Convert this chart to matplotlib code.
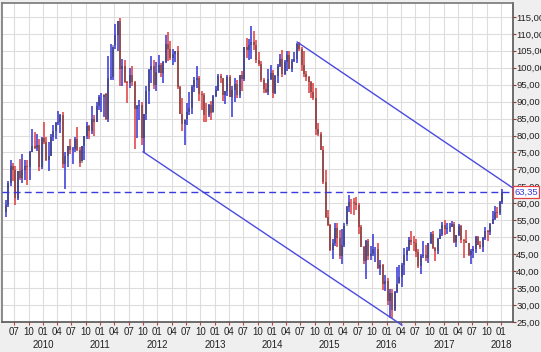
import matplotlib
matplotlib.use("Agg")
import matplotlib.pyplot as plt
import matplotlib.dates as mdates
import pandas as pd
import numpy as np

plt.rcParams['font.family'] = ['Liberation Sans', 'DejaVu Sans']

# semi-monthly periods starting 2009-05-01 through 2018-01-01
start_date = "2009-05-01"
end_date = "2018-01-01"

high = [
    61, 66.5, 72.7, 72, 71, 69.5, 73, 74.7, 72.8, 72.9, 75.3, 82, 81, 80.5, 79, 79.5,
    # 2010
    83.9, 79.5, 78, 80.5, 83, 84, 87.1, 86.3, 87, 75, 77, 79, 76.5, 79.5, 82.5, 76.5,
    76.9, 80, 84, 83, 88.6, 86, 90, 92,
    # 2011
    92.5, 92, 92.5, 103.4, 106.9, 106, 113, 113.9, 114.8, 102.6, 102.4, 96, 99.8, 100.6,
    96, 89, 90.5, 90, 86.3, 94.6, 99.5, 103.4, 102.4, 101.8,
    # 2012
    103.7, 101.3, 102, 109.8, 110.5, 108, 105.5, 105, 106.4, 94.5, 91, 84.5, 89.5, 92.9,
    94.9, 97.3, 100.4, 97.5, 93, 92.5, 89.5, 89.3, 90.3, 92,
    # 2013
    94.5, 98.2, 98.2, 97, 93.2, 97.8, 97.8, 94.6, 96.9, 96.5, 98, 98.9, 106, 108.9,
    108.5, 112.2, 110.9, 108.1, 104.6, 102, 97.1, 95.6, 99.5, 100.8,
    # 2014
    99.4, 97.8, 101.1, 104, 105.2, 102.2, 104.9, 104.9, 102.7, 104.5, 107.3, 107.7, 106.2,
    104.9, 99, 97.5, 96, 95.5, 94, 83.8, 81, 77, 69.9, 57.9,
    # 2015
    54, 49.6, 54.2, 54.3, 52, 52.5, 54.1, 59.1, 62.6, 61.3, 61.5, 61.8, 60, 53.5,
    47.5, 49.3, 49.6, 47.4, 50.9, 47, 48.4, 43.4, 42, 38.8,
    # 2016
    38, 34.8, 34.8, 34.2, 41.2, 41.9, 42.4, 46.8, 47, 50.2, 51.7, 50.5, 49.5, 46.5,
    45, 48.8, 47.7, 48.3, 51.6, 51.9, 47, 49.9, 52.4, 54.4,
    # 2017
    55.2, 54.3, 54.3, 54.9, 54.6, 50.8, 53.8, 53.5, 49.6, 52, 48.4, 46.5, 47.3, 50.4,
    50.3, 49, 50, 52.9, 52.2, 54.2, 57.7, 59.1, 58.9, 60.6,
    # 2018
    64.2,
]

low = [
    56, 59, 65, 66.5, 59.5, 61, 67, 66, 66.8, 65.5, 66.9, 75, 76, 75.5, 69.5, 70,
    # 2010
    77.5, 72.4, 69.5, 73.9, 78.3, 79, 83, 80.7, 70.5, 64.2, 70.8, 74.5, 71.5, 75, 75.5, 70.8,
    72.5, 72.8, 79, 79, 80.5, 80, 84, 87.5,
    # 2011
    87, 85.5, 84.5, 84, 96.5, 96.5, 105.5, 104.9, 94.6, 94.6, 95.5, 89.6, 94, 94.5,
    76, 79.2, 84.6, 77.1, 74.9, 84.5, 89.2, 95.5, 93.8, 93,
    # 2012
    98.5, 97.3, 95.4, 101.5, 102, 102.2, 100.7, 101.7, 93.6, 86.5, 81.2, 77.3, 83, 86,
    86.5, 92.8, 94, 90.2, 87.5, 84.1, 84, 85.4, 84.5, 86.8,
    # 2013
    91.5, 93, 95.5, 90.1, 89.3, 91.8, 91.3, 85.6, 89.8, 91, 91.2, 93, 96, 103,
    102.2, 102.5, 105.2, 101.5, 100.5, 95.9, 92.5, 92.5, 92, 96.5,
    # 2014
    91.2, 92.4, 95.5, 100.3, 97.4, 97.9, 98.9, 99.7, 98.6, 101.8, 101.4, 104.9, 99.1,
    97.2, 96, 92.5, 91.2, 90.4, 80.1, 79.8, 75.6, 65.7, 55.8, 53.3,
    # 2015
    45.9, 43.6, 47.4, 47.2, 43.5, 42, 47, 54, 57.4, 57, 56.5, 58, 51.1, 47,
    42.2, 37.8, 43.2, 43.3, 44.5, 42.6, 40.7, 38.9, 34.5, 34,
    # 2016
    29.9, 26.1, 26.1, 28.3, 33.7, 36.6, 35.2, 39, 43, 46, 47.8, 45.8, 44.1, 40.9,
    39.2, 44, 43, 42.5, 48, 46.6, 43, 45, 49.5, 50.3,
    # 2017
    50.7, 51, 51.6, 53, 48.4, 47.1, 50.3, 48.2, 43.8, 48.2, 44.5, 42.1, 43.9, 45.4,
    47.6, 46.4, 45.6, 49.3, 48.9, 50.7, 54, 55, 55.8, 56.5,
    # 2018
    59.8,
]

close = [
    59.5, 66, 71, 69.9, 61.5, 69.4, 67.5, 69.9, 70.9, 70.6, 75.2, 77, 76.4, 77.3, 70.7, 79.4,
    # 2010
    78, 72.9, 74.1, 79.7, 81.2, 83.8, 84, 86.2, 71.6, 74, 76.9, 75.6, 76, 78.9, 75.6, 71.9,
    76.8, 79.9, 82.7, 81.4, 84.9, 84.1, 88.6, 91.4,
    # 2011
    91.5, 92.2, 84.8, 96.9, 97.2, 106.7, 109.7, 113.9, 99.6, 100.5, 95.8, 95.4, 97.8, 95.7,
    87.9, 88.8, 89, 79.2, 86.3, 93.2, 99.4, 100.4, 94.9, 98.8,
    # 2012
    100.7, 98.5, 101.8, 107.1, 105.4, 103, 104.2, 104.9, 94.4, 86.5, 83.3, 84.9, 86.8, 88.1,
    94.3, 96.5, 97, 92.2, 91.9, 86.2, 86, 88.9, 86.7, 91.8,
    # 2013
    93.3, 97.5, 97, 92, 93.2, 97.2, 91.3, 93.5, 95.2, 91.9, 97.8, 96.6, 106, 105.1,
    106.8, 107.7, 106.6, 102.3, 101.2, 96.4, 93.8, 92.7, 96.6, 98.4,
    # 2014
    92.6, 97.5, 100.4, 102.6, 98.1, 101.6, 103.8, 99.7, 102, 102.7, 106.9, 105.4, 100.9,
    98.2, 97.4, 95.9, 92.9, 91.2, 81.8, 80.5, 75.8, 66.2, 55.9, 53.5,
    # 2015
    46.1, 48.2, 52.8, 49.8, 44.5, 47.6, 53.3, 59, 60.5, 60.3, 60, 59.5, 53, 47.1,
    42.9, 49, 44.6, 45.1, 46.4, 46.6, 41, 41.7, 36.3, 37.1,
    # 2016
    31.2, 33.6, 28.5, 33.8, 36.3, 38.3, 41.8, 44.7, 46.2, 49.3, 48.5, 48.3, 45.7, 41.6,
    44.5, 44.7, 43.9, 48.2, 50.9, 46.9, 45.8, 49.4, 51, 53.7,
    # 2017
    52.4, 52.8, 53.1, 54, 48.6, 50.6, 53.4, 49.3, 48.9, 48.3, 44.7, 46, 46.6, 50.2,
    47.8, 47.2, 49.9, 51.7, 51.5, 54, 55.3, 57.4, 57.3, 60.4,
    # 2018
    63.35,
]

last_value = 63.35
y_ticks = list(range(25, 120, 5))
quarter_labels = {1: "01", 4: "04", 7: "07", 10: "10"}
year_labels = [str(y) for y in range(2010, 2019)]

# trend lines (date, value)
upper_trend = [("2014-06-10", 107.6), ("2018-03-18", 64.5)]
lower_trend = [("2011-10-01", 75.2), ("2016-04-08", 24.1)]

dates = pd.date_range(start_date, end_date, freq="SMS") + pd.Timedelta(days=7)
n = len(dates)
high = np.array(high[:n]); low = np.array(low[:n]); close = np.array(close[:n])
opn = np.concatenate([[close[0] - 2], close[:-1]])

BLUE = "#3434d6"
RED = "#e03a3a"
BG = "#efefef"

fig = plt.figure(figsize=(5.41, 3.52), dpi=100, facecolor=BG)
ax = fig.add_axes([2 / 541, 1 - 322 / 352, 511 / 541, 319 / 352])
ax.set_facecolor("white")

x = mdates.date2num(dates)
up = close >= opn
ax.vlines(x, low, high, colors=np.where(up, BLUE, RED), lw=1.1, zorder=3)
ax.vlines(x, np.minimum(opn, close), np.maximum(opn, close), colors="#303030", lw=1.1, zorder=4, alpha=0.55)

# trend lines
for seg in (upper_trend, lower_trend):
    tx = mdates.date2num(pd.to_datetime([s[0] for s in seg]))
    ty = [s[1] for s in seg]
    ax.plot(tx, ty, color="#4a4ae0", lw=1.0, zorder=5, clip_on=False)

ax.axhline(last_value, color="#3a3ae0", lw=1.0, ls=(0, (5, 3)), zorder=5)

xmin = mdates.date2num(pd.Timestamp("2009-04-14"))
xmax = mdates.date2num(pd.Timestamp("2018-03-18"))
ax.set_xlim(xmin, xmax)
ax.set_ylim(25, 119.1)

# x ticks quarterly
qt = pd.date_range("2009-07-01", "2018-01-01", freq="QS-JAN")
ticks = mdates.date2num(qt)
ax.set_xticks(ticks)
ax.set_xticklabels([quarter_labels[d.month] for d in qt], fontsize=7, color="#222222")
ax.tick_params(axis="x", direction="out", length=2, width=0.8, color="#c04040", pad=1.5)

# year labels on a second row under January ticks
xt = ax.get_xaxis_transform()
for yl in year_labels:
    ax.text(mdates.date2num(pd.Timestamp(f"{yl}-01-01")), -0.055, yl, transform=xt,
            ha="center", va="top", fontsize=7, color="#222222", clip_on=False)

ax.yaxis.tick_right()
ax.set_yticks(y_ticks)
ax.set_yticklabels([f"{v:.2f}".replace(".", ",") for v in y_ticks], fontsize=6.8, color="#222222")
ax.tick_params(axis="y", direction="out", length=2, width=0.8, color="#a03030", pad=0.3)

ax.grid(True, color="#dddddd", lw=0.8, zorder=0)
ax.set_axisbelow(True)

for side, sp in ax.spines.items():
    sp.set_color("#555555")
    sp.set_linewidth(1.2)
ax.spines["top"].set_color("#777777")
ax.spines["left"].set_color("#777777")

ax.text(1.003, last_value, f"{last_value:.2f}".replace(".", ","), transform=ax.get_yaxis_transform(),
        fontsize=6.8, color="#3a3ae0", va="center", ha="left", zorder=10, clip_on=False,
        bbox=dict(boxstyle="square,pad=0.12", fc="white", ec="#e04040", lw=0.9))

fig.savefig("out.png", dpi=100, facecolor=BG)
